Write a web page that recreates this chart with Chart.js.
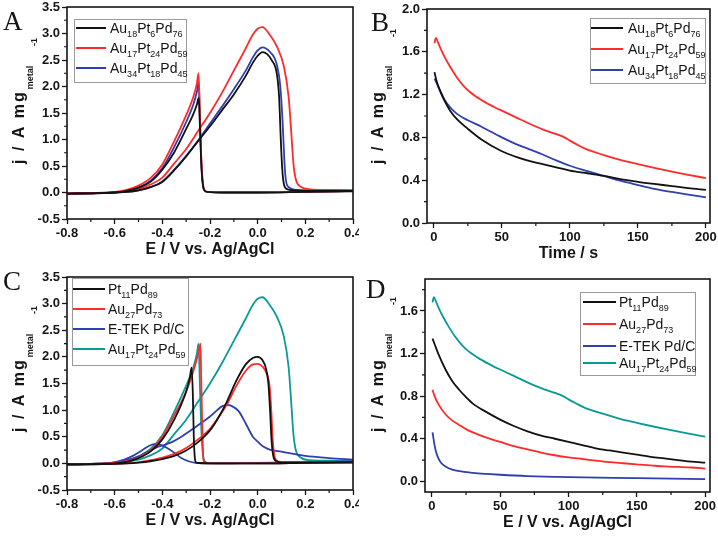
<!DOCTYPE html>
<html>
<head>
<meta charset="utf-8">
<script src="https://cdn.jsdelivr.net/npm/chart.js@4.4.1/dist/chart.umd.min.js"></script>
<style>
html, body { margin: 0; padding: 0; background: #fff; }
#wrap { position: relative; width: 718px; height: 538px; }
canvas { position: absolute; }
</style>
</head>
<body>
<div id="wrap">
  <canvas id="cA" width="359" height="269" style="left:0;top:0"></canvas>
  <canvas id="cB" width="359" height="269" style="left:359px;top:0"></canvas>
  <canvas id="cC" width="359" height="269" style="left:0;top:269px"></canvas>
  <canvas id="cD" width="359" height="269" style="left:359px;top:269px"></canvas>
</div>
<script>
// ---- CV data, [E (V vs Ag/AgCl), j (A/mg)], forward then backward scan
const cv_Au18Pt6Pd76_fwd = [[-0.8,-0.02],[-0.65,-0.01],[-0.55,0.01],[-0.5,0.04],[-0.45,0.1],[-0.4,0.2],[-0.35,0.42],[-0.3,0.68],[-0.25,0.97],[-0.2,1.25],[-0.15,1.55],[-0.1,1.85],[-0.05,2.2],[-0.02,2.45],[0.0,2.58],[0.02,2.65],[0.04,2.61],[0.06,2.49],[0.08,2.25],[0.09,1.8],[0.097,1.0],[0.103,0.45],[0.11,0.16],[0.125,0.06],[0.16,0.04],[0.25,0.03],[0.4,0.03]];
const cv_Au18Pt6Pd76_bwd = [[0.4,0.02],[0.2,0.01],[0.0,0.0],[-0.15,0.0],[-0.21,0.01],[-0.225,0.05],[-0.235,0.4],[-0.242,1.2],[-0.247,1.79],[-0.255,1.66],[-0.27,1.48],[-0.3,1.2],[-0.35,0.76],[-0.4,0.43],[-0.45,0.2],[-0.5,0.09],[-0.55,0.03],[-0.6,0.0],[-0.7,-0.015],[-0.8,-0.02]];
const cv_Au17Pt24Pd59_fwd = [[-0.8,-0.02],[-0.65,-0.01],[-0.6,0.0],[-0.55,0.03],[-0.5,0.07],[-0.45,0.15],[-0.4,0.28],[-0.35,0.55],[-0.3,0.82],[-0.25,1.16],[-0.2,1.5],[-0.15,1.88],[-0.1,2.3],[-0.05,2.72],[-0.02,2.98],[0.0,3.09],[0.02,3.12],[0.05,2.98],[0.08,2.76],[0.11,2.38],[0.13,1.8],[0.14,1.2],[0.15,0.55],[0.16,0.25],[0.18,0.11],[0.22,0.06],[0.3,0.05],[0.4,0.04]];
const cv_Au17Pt24Pd59_bwd = [[0.4,0.03],[0.2,0.01],[0.0,0.0],[-0.15,0.0],[-0.21,0.01],[-0.225,0.06],[-0.235,0.5],[-0.242,1.4],[-0.248,2.25],[-0.255,2.06],[-0.27,1.8],[-0.3,1.46],[-0.35,0.97],[-0.4,0.53],[-0.45,0.27],[-0.5,0.13],[-0.55,0.05],[-0.6,0.01],[-0.7,-0.01],[-0.8,-0.02]];
const cv_Au34Pt18Pd45_fwd = [[-0.8,-0.02],[-0.65,-0.01],[-0.55,0.01],[-0.5,0.04],[-0.45,0.1],[-0.4,0.21],[-0.35,0.43],[-0.3,0.69],[-0.25,0.98],[-0.2,1.3],[-0.15,1.62],[-0.1,1.95],[-0.05,2.3],[-0.02,2.55],[0.0,2.68],[0.02,2.74],[0.05,2.66],[0.08,2.42],[0.095,2.0],[0.105,1.3],[0.112,0.6],[0.118,0.25],[0.13,0.1],[0.16,0.05],[0.25,0.04],[0.4,0.04]];
const cv_Au34Pt18Pd45_bwd = [[0.4,0.03],[0.2,0.01],[0.0,0.0],[-0.15,0.0],[-0.21,0.01],[-0.225,0.05],[-0.235,0.45],[-0.242,1.3],[-0.247,2.08],[-0.255,1.9],[-0.27,1.66],[-0.3,1.33],[-0.35,0.86],[-0.4,0.46],[-0.45,0.22],[-0.5,0.1],[-0.55,0.03],[-0.6,0.0],[-0.7,-0.015],[-0.8,-0.02]];
const cv_Pt11Pd89_fwd = [[-0.8,-0.02],[-0.65,-0.015],[-0.55,0.0],[-0.5,0.015],[-0.45,0.04],[-0.4,0.08],[-0.35,0.14],[-0.3,0.24],[-0.25,0.4],[-0.2,0.62],[-0.17,0.82],[-0.13,1.15],[-0.09,1.55],[-0.05,1.86],[-0.02,1.98],[0.0,2.0],[0.02,1.94],[0.035,1.78],[0.045,1.5],[0.052,1.0],[0.058,0.45],[0.065,0.15],[0.075,0.05],[0.1,0.02],[0.4,0.02]];
const cv_Pt11Pd89_bwd = [[0.4,0.02],[0.2,0.01],[0.0,0.0],[-0.2,0.0],[-0.255,0.01],[-0.262,0.05],[-0.268,0.5],[-0.272,1.3],[-0.277,1.8],[-0.285,1.6],[-0.3,1.35],[-0.35,0.82],[-0.4,0.45],[-0.45,0.22],[-0.5,0.1],[-0.55,0.03],[-0.6,0.0],[-0.7,-0.015],[-0.8,-0.02]];
const cv_Au27Pd73_fwd = [[-0.8,-0.02],[-0.65,-0.015],[-0.55,0.0],[-0.5,0.02],[-0.45,0.06],[-0.4,0.11],[-0.35,0.18],[-0.3,0.29],[-0.25,0.45],[-0.2,0.65],[-0.17,0.83],[-0.13,1.1],[-0.09,1.45],[-0.05,1.74],[-0.02,1.86],[0.0,1.87],[0.02,1.82],[0.04,1.66],[0.05,1.45],[0.057,1.0],[0.063,0.45],[0.07,0.15],[0.08,0.05],[0.1,0.02],[0.4,0.02]];
const cv_Au27Pd73_bwd = [[0.4,0.02],[0.2,0.01],[0.0,0.0],[-0.2,0.0],[-0.222,0.01],[-0.228,0.1],[-0.233,0.8],[-0.237,1.6],[-0.24,2.25],[-0.25,2.05],[-0.27,1.73],[-0.3,1.35],[-0.35,0.9],[-0.4,0.5],[-0.45,0.24],[-0.5,0.11],[-0.55,0.04],[-0.6,0.01],[-0.7,-0.01],[-0.8,-0.02]];
const cv_ETEK_fwd = [[-0.8,-0.02],[-0.7,-0.01],[-0.6,0.02],[-0.55,0.06],[-0.5,0.13],[-0.46,0.22],[-0.42,0.31],[-0.39,0.35],[-0.36,0.4],[-0.32,0.5],[-0.28,0.62],[-0.24,0.75],[-0.2,0.88],[-0.17,1.0],[-0.15,1.07],[-0.13,1.1],[-0.11,1.08],[-0.08,0.98],[-0.05,0.75],[-0.02,0.5],[0.0,0.41],[0.025,0.31],[0.05,0.26],[0.1,0.22],[0.15,0.18],[0.2,0.14],[0.3,0.1],[0.4,0.07]];
const cv_ETEK_bwd = [[0.4,0.04],[0.3,0.03],[0.2,0.02],[0.0,0.01],[-0.2,0.0],[-0.26,0.01],[-0.29,0.04],[-0.32,0.1],[-0.35,0.2],[-0.38,0.29],[-0.41,0.35],[-0.43,0.36],[-0.45,0.34],[-0.48,0.26],[-0.52,0.15],[-0.56,0.07],[-0.6,0.02],[-0.7,-0.01],[-0.8,-0.02]];

// ---- chronoamperometry, [t (s), j (A/mg)]
const ca_Au18Pt6Pd76 = [[0.5,1.41],[2,1.33],[5,1.22],[8,1.14],[12,1.05],[17,0.97],[25,0.88],[35,0.78],[50,0.67],[60,0.62],[70,0.58],[80,0.55],[90,0.52],[100,0.49],[113,0.465],[125,0.44],[137,0.41],[150,0.385],[162,0.365],[175,0.345],[187,0.325],[200,0.31]];
const ca_Au17Pt24Pd59 = [[0.5,1.68],[1.5,1.73],[3,1.69],[5,1.63],[8,1.55],[12,1.46],[17,1.36],[22,1.28],[27,1.22],[35,1.15],[45,1.08],[50,1.05],[60,0.99],[70,0.93],[80,0.875],[90,0.83],[96,0.8],[100,0.77],[105,0.735],[112,0.69],[125,0.635],[137,0.59],[150,0.55],[162,0.515],[175,0.48],[187,0.45],[200,0.42]];
const ca_Au34Pt18Pd45 = [[0.5,1.35],[2,1.31],[5,1.23],[8,1.15],[12,1.08],[17,1.02],[25,0.96],[35,0.9],[50,0.8],[60,0.74],[70,0.69],[80,0.64],[90,0.585],[100,0.535],[113,0.485],[125,0.44],[137,0.395],[150,0.355],[162,0.32],[175,0.29],[187,0.265],[200,0.24]];
const ca_Pt11Pd89 = [[0.5,1.34],[2,1.29],[5,1.19],[10,1.05],[15,0.94],[20,0.86],[25,0.79],[30,0.73],[40,0.65],[50,0.58],[60,0.52],[70,0.47],[80,0.43],[90,0.4],[100,0.37],[110,0.34],[120,0.31],[130,0.29],[140,0.27],[150,0.25],[160,0.23],[170,0.215],[180,0.2],[190,0.185],[200,0.175]];
const ca_Au27Pd73 = [[0.5,0.86],[2,0.8],[5,0.72],[10,0.63],[15,0.57],[20,0.53],[25,0.49],[30,0.46],[40,0.41],[50,0.37],[60,0.33],[70,0.3],[80,0.27],[90,0.245],[100,0.225],[110,0.21],[120,0.195],[130,0.18],[140,0.17],[150,0.16],[160,0.15],[170,0.14],[180,0.135],[190,0.13],[200,0.12]];
const ca_ETEK = [[0.5,0.46],[1,0.42],[2,0.34],[3,0.28],[5,0.21],[7,0.17],[10,0.14],[15,0.11],[20,0.095],[30,0.08],[40,0.07],[50,0.062],[70,0.05],[100,0.04],[150,0.03],[200,0.02]];

// ---- ticks
const cvXTicks = [-0.8, -0.6, -0.4, -0.2, 0.0, 0.2, 0.4];
const cvXMinor = [-0.7, -0.5, -0.3, -0.1, 0.1, 0.3];
const cvYTicks = [-0.5, 0.0, 0.5, 1.0, 1.5, 2.0, 2.5, 3.0, 3.5];
const cvYMinor = [-0.25, 0.25, 0.75, 1.25, 1.75, 2.25, 2.75, 3.25];
const caXTicks = [0, 50, 100, 150, 200];
const caXMinor = [25, 75, 125, 175];
const caYTicksB = [0.0, 0.4, 0.8, 1.2, 1.6, 2.0];
const caYMinorB = [0.2, 0.6, 1.0, 1.4, 1.8];
const caYTicksD = [0.0, 0.4, 0.8, 1.2, 1.6];
const caYMinorD = [0.2, 0.6, 1.0, 1.4, 1.8];

const ink = '#151515';
const sans = '"Liberation Sans", Arial, sans-serif';
const black = '#111111', red = '#ff2a2a', blue = '#2f3fae', teal = '#0a9a96';

const fmt1 = v => (Math.abs(v) < 1e-9 ? 0 : v).toFixed(1);
const fmt0 = v => String(Math.round(v));

const panels = [
    {
        id: 'cA', letter: 'A', letterAt: [3, 30], pad: { top: 7, right: 6 }, yW: 67, xH: 50,
        x: { min: -0.8, max: 0.4, ticks: cvXTicks, minor: cvXMinor, fmt: fmt1 },
        y: { min: -0.5, max: 3.5, ticks: cvYTicks, minor: cvYMinor, fmt: fmt1 },
        xTitle: 'E / V vs. Ag/AgCl', yTitleAt: [23.5, 164], supAt: 118,
        series: [
            { label: 'Au_{18}Pt_{6}Pd_{76}', color: black, parts: [cv_Au18Pt6Pd76_fwd, cv_Au18Pt6Pd76_bwd] },
            { label: 'Au_{17}Pt_{24}Pd_{59}', color: red, parts: [cv_Au17Pt24Pd59_fwd, cv_Au17Pt24Pd59_bwd] },
            { label: 'Au_{34}Pt_{18}Pd_{45}', color: blue, parts: [cv_Au34Pt18Pd45_fwd, cv_Au34Pt18Pd45_bwd] }
        ],
        legend: { box: [74, 19, 112, 63], rows: [28, 48, 68], line: [76, 106], textX: 110 }
    },
    {
        id: 'cB', letter: 'B', letterAt: [12, 31], pad: { top: 9, right: 8 }, yW: 68, xH: 46,
        x: { min: -5, max: 203, ticks: caXTicks, minor: caXMinor, fmt: fmt0 },
        y: { min: 0, max: 2.0, ticks: caYTicksB, minor: caYMinorB, fmt: fmt1 },
        xTitle: 'Time / s', yTitleAt: [383 - 359, 164], supAt: 127,
        series: [
            { label: 'Au_{18}Pt_{6}Pd_{76}', color: black, parts: [ca_Au18Pt6Pd76] },
            { label: 'Au_{17}Pt_{24}Pd_{59}', color: red, parts: [ca_Au17Pt24Pd59] },
            { label: 'Au_{34}Pt_{18}Pd_{45}', color: blue, parts: [ca_Au34Pt18Pd45] }
        ],
        legend: { box: [231, 18, 115, 65], rows: [28, 49, 70], line: [232, 264], textX: 269 }
    },
    {
        id: 'cC', letter: 'C', letterAt: [3, 21], pad: { top: 8, right: 6 }, yW: 67, xH: 48,
        x: { min: -0.8, max: 0.4, ticks: cvXTicks, minor: cvXMinor, fmt: fmt1 },
        y: { min: -0.5, max: 3.5, ticks: cvYTicks, minor: cvYMinor, fmt: fmt1 },
        xTitle: 'E / V vs. Ag/AgCl', yTitleAt: [23.5, 163], supAt: 118,
        series: [
            { label: 'Pt_{11}Pd_{89}', color: black, parts: [cv_Pt11Pd89_fwd, cv_Pt11Pd89_bwd] },
            { label: 'Au_{27}Pd_{73}', color: red, parts: [cv_Au27Pd73_fwd, cv_Au27Pd73_bwd] },
            { label: 'E-TEK Pd/C', color: blue, parts: [cv_ETEK_fwd, cv_ETEK_bwd] },
            { label: 'Au_{17}Pt_{24}Pd_{59}', color: teal, parts: [cv_Au17Pt24Pd59_fwd, cv_Au17Pt24Pd59_bwd] }
        ],
        legend: { box: [72, 9, 116, 87], rows: [20, 40, 60, 80], line: [73, 105], textX: 108 }
    },
    {
        id: 'cD', letter: 'D', letterAt: [7, 29], pad: { top: 10, right: 8 }, yW: 66, xH: 46,
        x: { min: -5, max: 203.5, ticks: caXTicks, minor: caXMinor, fmt: fmt0 },
        y: { min: -0.1, max: 1.9, ticks: caYTicksD, minor: caYMinorD, fmt: fmt1 },
        xTitle: 'E / V vs. Ag/AgCl', yTitleAt: [383 - 359, 163], supAt: 127,
        series: [
            { label: 'Pt_{11}Pd_{89}', color: black, parts: [ca_Pt11Pd89] },
            { label: 'Au_{27}Pd_{73}', color: red, parts: [ca_Au27Pd73] },
            { label: 'E-TEK Pd/C', color: blue, parts: [ca_ETEK] },
            { label: 'Au_{17}Pt_{24}Pd_{59}', color: teal, parts: [ca_Au17Pt24Pd59] }
        ],
        legend: { box: [221, 23, 115, 83], rows: [33, 55, 77, 94], line: [224, 257], textX: 260 }
    }
];

// text with _{subscript}
function drawRich(ctx, str, x, y, size) {
    const parts = str.split(/(_\{[^}]*\})/).filter(s => s.length);
    let cx = x;
    for (const p of parts) {
        const sub = p.startsWith('_{');
        const t = sub ? p.slice(2, -1) : p;
        ctx.font = (sub ? 9 : size) + 'px ' + sans;
        ctx.fillText(t, cx, sub ? y + 4 : y);
        cx += ctx.measureText(t).width;
    }
}

function drawYTitle(ctx, x, y, supAt) {
    ctx.save();
    ctx.translate(x, y);
    ctx.rotate(-Math.PI / 2);
    ctx.fillStyle = ink;
    ctx.textAlign = 'left';
    ctx.textBaseline = 'alphabetic';
    ctx.font = 'bold 16px ' + sans;
    ctx.letterSpacing = '2px';
    ctx.fillText('j / A mg', 0, 0);
    const w = ctx.measureText('j / A mg').width;
    ctx.letterSpacing = '0px';
    ctx.font = 'bold 9px ' + sans;
    ctx.fillText('metal', w + 1, 9);
    ctx.fillText('-1', supAt, 13);
    ctx.restore();
}

function makePanel(p) {
    const datasets = [];
    p.series.forEach(s => s.parts.forEach(part => datasets.push({
        data: part.map(([x, y]) => ({ x, y })),
        borderColor: s.color,
        borderWidth: 1.8,
        pointRadius: 0,
        fill: false,
        cubicInterpolationMode: 'monotone'
    })));

    const axis = (a, isX) => ({
        type: 'linear',
        min: a.min,
        max: a.max,
        afterBuildTicks: sc => { sc.ticks = a.ticks.map(v => ({ value: v })); },
        afterFit: sc => {
            if (isX) sc.height = p.xH; else sc.width = p.yW;
            sc.paddingLeft = 0; sc.paddingRight = 0; sc.paddingTop = 0; sc.paddingBottom = 0;
        },
        ticks: {
            autoSkip: false, maxRotation: 0, padding: 2, color: ink,
            font: { family: sans, size: 13, weight: 'bold' },
            callback: v => a.fmt(v)
        },
        grid: { drawOnChartArea: false, drawTicks: true, tickLength: 5, tickColor: ink, tickWidth: 1.3 },
        border: { display: false },
        title: { display: false }
    });

    const deco = {
        id: 'deco',
        afterDraw(chart) {
            const ctx = chart.ctx;
            const a = chart.chartArea;
            ctx.save();
            // minor ticks
            ctx.strokeStyle = ink;
            ctx.lineWidth = 1.2;
            ctx.beginPath();
            p.x.minor.forEach(v => {
                const px = chart.scales.x.getPixelForValue(v);
                ctx.moveTo(px, a.bottom); ctx.lineTo(px, a.bottom + 3);
            });
            p.y.minor.forEach(v => {
                if (v < p.y.min || v > p.y.max) return;
                const py = chart.scales.y.getPixelForValue(v);
                ctx.moveTo(a.left - 3, py); ctx.lineTo(a.left, py);
            });
            ctx.stroke();
            // frame
            ctx.lineWidth = 1.6;
            ctx.strokeRect(a.left, a.top, a.right - a.left, a.bottom - a.top);

            // legend
            const L = p.legend;
            ctx.lineWidth = 1;
            ctx.strokeStyle = '#9a9a9a';
            ctx.strokeRect(L.box[0] + 0.5, L.box[1] + 0.5, L.box[2], L.box[3]);
            ctx.textAlign = 'left';
            ctx.textBaseline = 'alphabetic';
            p.series.forEach((s, i) => {
                const ry = L.rows[i];
                ctx.strokeStyle = s.color;
                ctx.lineWidth = 2;
                ctx.beginPath();
                ctx.moveTo(L.line[0], ry); ctx.lineTo(L.line[1], ry);
                ctx.stroke();
                ctx.fillStyle = ink;
                drawRich(ctx, s.label, L.textX, ry + 5, 14);
            });

            // axis titles
            ctx.fillStyle = ink;
            ctx.font = 'bold 16px ' + sans;
            ctx.textAlign = 'center';
            ctx.textBaseline = 'middle';
            ctx.fillText(p.xTitle, (a.left + a.right) / 2, a.bottom + 31);
            drawYTitle(ctx, p.yTitleAt[0], p.yTitleAt[1], p.supAt);

            // panel letter
            ctx.fillStyle = ink;
            ctx.font = '27px "Liberation Serif", "Times New Roman", serif';
            ctx.textAlign = 'left';
            ctx.textBaseline = 'alphabetic';
            ctx.fillText(p.letter, p.letterAt[0], p.letterAt[1]);
            ctx.restore();
        }
    };

    return new Chart(document.getElementById(p.id), {
        type: 'line',
        data: { datasets },
        options: {
            responsive: false,
            animation: false,
            devicePixelRatio: 1,
            layout: { padding: { left: 0, top: p.pad.top, right: p.pad.right, bottom: 0 } },
            plugins: { legend: { display: false }, tooltip: { enabled: false } },
            scales: { x: axis(p.x, true), y: axis(p.y, false) }
        },
        plugins: [deco]
    });
}

panels.forEach(makePanel);
</script>
</body>
</html>
